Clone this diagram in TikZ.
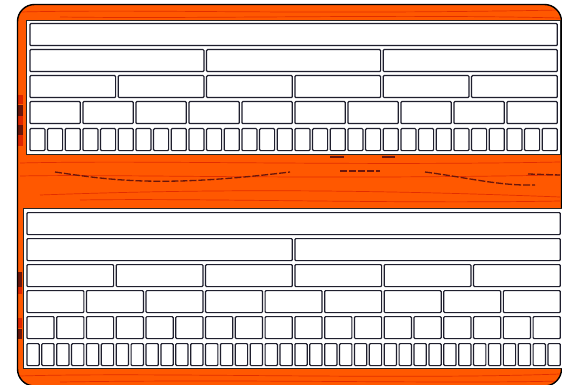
\documentclass[tikz,border=0pt]{standalone}
\usepackage{xcolor}
\usetikzlibrary{positioning}
\definecolor{woodorange}{RGB}{255,88,0}
\definecolor{grainred}{RGB}{222,38,0}
\definecolor{graindark}{RGB}{105,22,12}
\definecolor{celledge}{RGB}{30,30,45}
\tikzset{
  board/.style={draw=black,line width=1.4pt,rounded corners=17pt},
  panel/.style={draw=black!85,fill=white,line width=0.6pt},
  cell/.style={
    draw=celledge,
    fill=white,
    rounded corners=1pt,
    line width=1.2pt,
    inner sep=0pt,
    minimum height=22pt,
    anchor=north west
  },
  grain/.style={draw=grainred,line width=0.7pt,opacity=0.85},
  darkgrain/.style={draw=graindark,line width=1.3pt,dash pattern=on 7pt off 2pt}
}
% one row of equal parts: name, top, count, left, right
\newcommand{\striprow}[5]{%
  \foreach \k in {1,...,#3}{
    \pgfmathsetmacro{\cw}{(#5-#4)/#3}
    \pgfmathsetmacro{\cx}{#4+(\k-1)*\cw+1.3}
    \node[cell,minimum width=\cw pt-2.6pt] (#1-\k) at (\cx,#2) {};
  }%
}
\begin{document}
\begin{tikzpicture}[x=1pt,y=-1pt]
  \useasboundingbox (0,0) rectangle (562,385);
  \clip (0,0) rectangle (562,385);

  % wooden board
  \begin{scope}
    \clip[rounded corners=17pt] (17.5,4.5) rectangle (561.5,386);
    \fill[woodorange] (0,0) rectangle (562,390);
    \draw[grain] (20,12) .. controls (150,9) and (300,15) .. (560,10);
    \draw[grain] (60,17) .. controls (200,19) and (400,14) .. (560,18);
    \draw[grain] (20,163) .. controls (150,160) and (350,166) .. (560,162);
    \draw[grain] (20,176) .. controls (120,174) and (300,180) .. (560,175);
    \draw[grain] (40,195) .. controls (180,190) and (330,188) .. (560,197);
    \draw[grain] (80,200) .. controls (200,198) and (400,204) .. (560,201);
    \draw[grain] (20,376) .. controls (150,372) and (400,380) .. (560,374);
    \draw[grain] (60,382) .. controls (250,379) and (450,384) .. (560,381);
    \draw[darkgrain] (55,172) .. controls (110,180) and (160,188) .. (290,172);
    \draw[darkgrain] (340,171) -- (380,171);
    \draw[darkgrain] (425,172) .. controls (470,178) and (500,186) .. (535,185);
    \draw[darkgrain] (528,174) -- (560,175);
    \draw[graindark,line width=1.6pt] (330,157) -- (344,157);
    \draw[graindark,line width=1.6pt] (382,157) -- (395,157);
    % dark knots on the left edge
    \fill[grainred] (17,95) rectangle (23,104);
    \fill[graindark] (17,105) rectangle (23,116);
    \fill[grainred] (17,116) rectangle (23,125);
    \fill[graindark] (17,125) rectangle (23,135);
    \fill[grainred] (17,135) rectangle (23,146);
    \fill[graindark] (17,272) rectangle (22,287);
    \fill[grainred] (17,287) rectangle (22,294);
    \fill[grainred] (17,318) rectangle (22,328);
    \fill[graindark] (17,329) rectangle (22,339);
  \end{scope}
  \draw[board] (17.5,4.5) rectangle (561.5,386);

  % upper set of strips
  \fill[panel] (26,20) rectangle (560,154);
  \striprow{ua}{23}{1}{28}{558}
  \striprow{ub}{49}{3}{28}{558}
  \striprow{uc}{75}{6}{28}{558}
  \striprow{ud}{101}{10}{28}{558}
  \striprow{ue}{128}{30}{28}{558}

  % lower set of strips
  \fill[panel] (23,208) rectangle (563,368);
  \striprow{la}{212}{1}{25}{561}
  \striprow{lb}{238}{2}{25}{561}
  \striprow{lc}{264}{6}{25}{561}
  \striprow{ld}{290}{9}{25}{561}
  \striprow{le}{316}{18}{25}{561}
  \striprow{lf}{343}{36}{25}{561}
\end{tikzpicture}
\end{document}
